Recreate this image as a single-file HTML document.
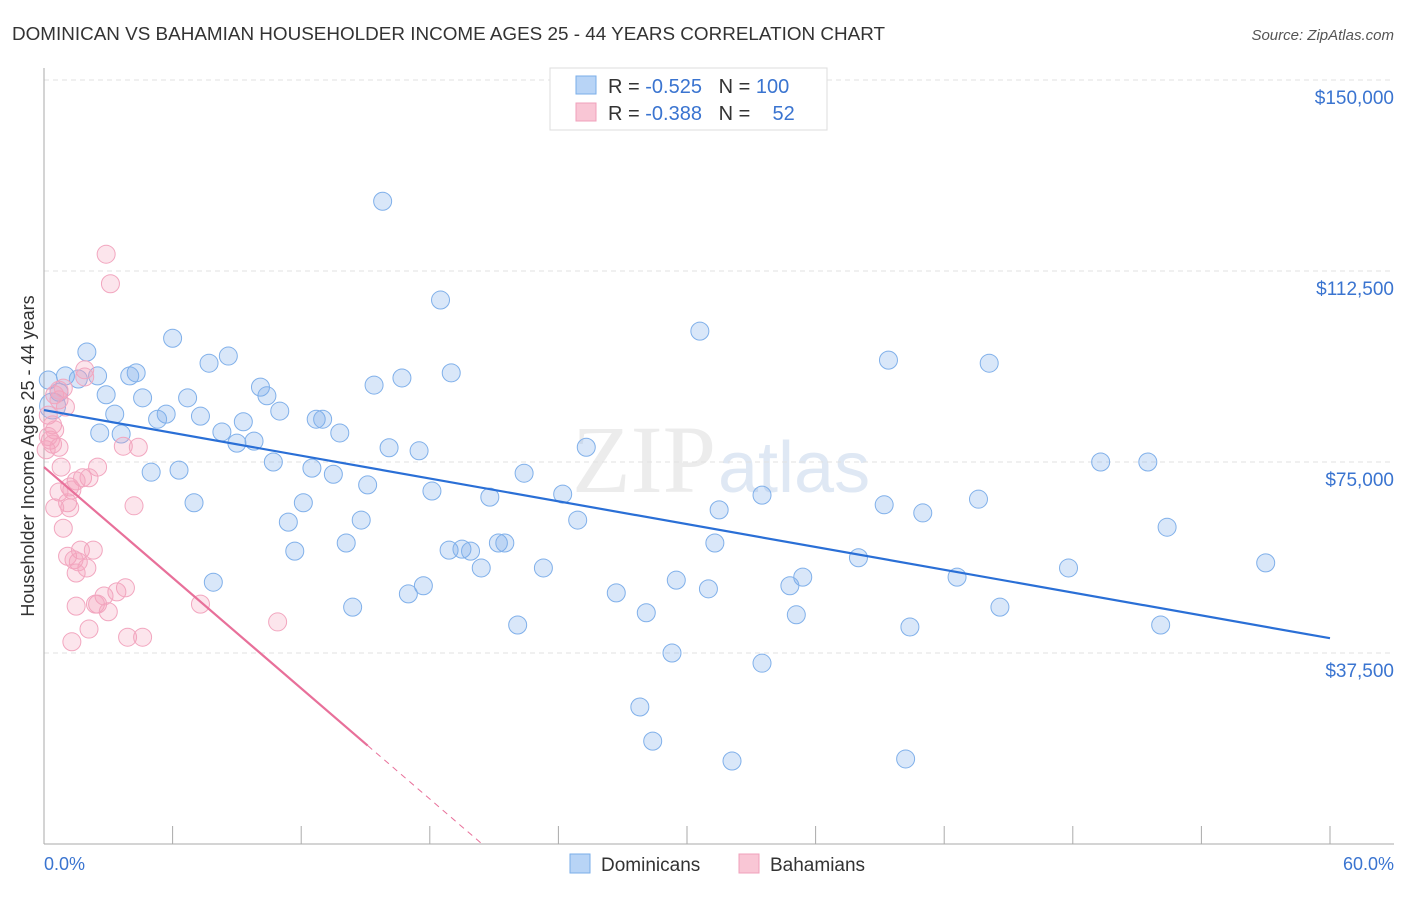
<!DOCTYPE html>
<html><head><meta charset="utf-8"><style>
body{margin:0;background:#fff;font-family:"Liberation Sans",sans-serif;}
</style></head><body>
<svg id="chart" width="1406" height="892" xmlns="http://www.w3.org/2000/svg" font-family="Liberation Sans, sans-serif">
<text x="12" y="40" font-size="18" fill="#333" textLength="873" lengthAdjust="spacingAndGlyphs">DOMINICAN VS BAHAMIAN HOUSEHOLDER INCOME AGES 25 - 44 YEARS CORRELATION CHART</text>
<text x="1394" y="40" font-size="15" fill="#555" text-anchor="end" font-style="italic">Source: ZipAtlas.com</text>
<text x="716" y="492" font-size="96" fill="#ececec" text-anchor="end" font-family="Liberation Serif, serif">ZIP</text>
<text x="718" y="492" font-size="72" fill="#dfe8f4">atlas</text>
<g id="grid"></g><g id="axes"></g><g id="pts"></g><g id="lines"></g>
<text transform="translate(34,456) rotate(-90)" font-size="18" fill="#333" text-anchor="middle">Householder Income Ages 25 - 44 years</text>
<text x="44" y="870" font-size="18" fill="#3a74d0">0.0%</text>
<text x="1394" y="870" font-size="18" fill="#3a74d0" text-anchor="end">60.0%</text>
<g>
<rect x="550" y="68" width="277" height="62" fill="#fff" stroke="#ddd"/>
<rect x="576" y="76" width="20" height="18" fill="#b8d4f6" stroke="#7aaee8"/>
<text x="608" y="93" font-size="20" fill="#333" xml:space="preserve">R = <tspan fill="#3a74d0">-0.525</tspan>   N = <tspan fill="#3a74d0">100</tspan></text>
<rect x="576" y="103" width="20" height="18" fill="#f9c6d5" stroke="#f0a0bb"/>
<text x="608" y="120" font-size="20" fill="#333" xml:space="preserve">R = <tspan fill="#3a74d0">-0.388</tspan>   N =    <tspan fill="#3a74d0">52</tspan></text>
</g>
<g>
<rect x="570" y="854" width="20" height="19" fill="#b8d4f6" stroke="#7aaee8"/>
<text x="601" y="871" font-size="19" fill="#333">Dominicans</text>
<rect x="739" y="854" width="20" height="19" fill="#f9c6d5" stroke="#f0a0bb"/>
<text x="770" y="871" font-size="19" fill="#333">Bahamians</text>
</g>
</svg>
<script>
const yTicks=[37500,75000,112500,150000];
const yTickLabels=["$37,500","$75,000","$112,500","$150,000"];
const xTicks=[0,6,12,18,24,30,36,42,48,54,60];
const blueX=[15.8,18.5,30.6,6.0,39.4,44.1,2.0,8.6,7.7,19.0,16.7,15.4,10.1,10.4,4.3,4.0,1.0,2.5,1.6,0.7,0.2,2.9,4.6,6.7,5.7,3.3,5.3,7.3,11.0,9.3,12.7,13.0,13.8,8.3,2.6,3.6,9.0,9.8,16.1,17.5,25.3,10.7,12.5,13.5,5.0,6.3,22.4,49.3,51.5,15.1,18.1,20.8,24.2,33.5,7.0,12.1,39.2,43.6,31.5,41.0,14.8,24.9,11.4,52.4,14.1,21.2,21.5,31.3,11.7,18.9,19.5,19.9,38.0,57.0,20.4,23.3,47.8,7.9,29.5,35.4,42.6,34.8,17.7,17.0,26.7,31.0,44.6,14.4,28.1,35.1,22.1,40.4,52.1,29.3,33.5,27.8,28.4,32.1,40.2,0.4];
const blueY=[126.2,106.8,100.7,99.3,95.0,94.4,96.6,95.8,94.4,92.5,91.5,90.1,89.7,88.0,92.5,91.9,91.9,91.9,91.3,88.7,91.1,88.2,87.6,87.6,84.4,84.4,83.4,84.0,85.0,82.9,83.4,83.4,80.7,80.9,80.7,80.5,78.7,79.1,77.8,77.2,77.9,75.0,73.8,72.6,73.0,73.4,72.8,75.0,75.0,70.5,69.3,68.1,68.7,68.5,67.0,67.0,66.6,67.7,65.6,65.0,63.6,63.6,63.2,62.2,59.1,59.1,59.1,59.1,57.5,57.7,57.9,57.5,56.2,55.2,54.2,54.2,54.2,51.4,51.8,52.4,52.4,50.7,50.7,49.1,49.3,50.1,46.5,46.5,45.4,45.0,43.0,42.6,43.0,37.5,35.5,26.9,20.2,16.3,16.7,86.0];
const pinkX=[2.9,3.1,0.5,0.7,0.9,0.2,0.4,0.3,0.7,0.1,0.8,2.5,1.8,2.1,1.5,1.2,0.7,1.3,1.1,0.5,1.2,4.2,0.9,1.1,1.7,2.3,2.0,1.6,1.4,1.5,3.8,3.4,2.8,2.5,1.5,2.4,3.0,3.9,4.6,1.3,2.1,7.3,10.9,3.7,4.4,0.7,1.9,1.0,1.9,0.5,0.2,0.4];
const pinkY=[115.8,110.0,88.2,87.2,89.5,84.2,82.3,79.3,77.9,77.4,74.0,74.0,71.9,71.9,71.3,70.1,69.1,69.5,67.0,66.0,66.0,66.4,62.0,56.5,57.7,57.7,54.2,55.4,55.8,53.2,50.3,49.5,48.7,47.1,46.7,47.1,45.6,40.6,40.6,39.7,42.2,47.1,43.6,78.1,77.9,89.1,93.1,85.8,91.7,81.3,80.0,78.5];
const blueTrend=[85.2,40.4];
const pinkTrend=[74.0,0];
const pinkZeroX=20.44, pinkSolidEnd=15.1;
const X=v=>44+v*(1286/60);
const Y=v=>844-v*191/37.5;
const NS="http://www.w3.org/2000/svg";
function mk(tag,attrs,parent){const e=document.createElementNS(NS,tag);for(const k in attrs)e.setAttribute(k,attrs[k]);document.getElementById(parent).appendChild(e);return e;}
yTicks.forEach((t,i)=>{
 const g=mk('line',{x1:44,x2:1394,y1:Y(t/1000),y2:Y(t/1000),stroke:'#e2e2e2','stroke-dasharray':'5,4'},'grid');
 
 
 const l=mk('text',{x:1394,y:Y(t/1000)+24,'font-size':19,fill:'#3a74d0','text-anchor':'end'},'axes');
 l.textContent=yTickLabels[i];
 
 
});
const ax=mk('line',{x1:44,x2:44,y1:68,y2:844,stroke:'#aaa'},'axes');


const bx=mk('line',{x1:44,x2:1394,y1:844,y2:844,stroke:'#aaa'},'axes');


xTicks.forEach(t=>{
 const e=mk('line',{x1:X(t),x2:X(t),y1:826,y2:844,stroke:'#aaa'},'axes');
 
 
});
blueX.forEach((x,i)=>{
 const c=mk('circle',{cx:X(x),cy:Y(blueY[i]),r:i==blueX.length-1?13:9,fill:'rgba(120,170,235,0.28)',stroke:'#80b0ea','stroke-width':1},'pts');
 
 
});
pinkX.forEach((x,i)=>{
 const c=mk('circle',{cx:X(x),cy:Y(pinkY[i]),r:9,fill:'rgba(245,160,188,0.28)',stroke:'#f2a6bf','stroke-width':1},'pts');
 
 
});
const bl=mk('line',{x1:X(0),y1:Y(blueTrend[0]),x2:X(60),y2:Y(blueTrend[1]),stroke:'#2a6fd6','stroke-width':2.2},'lines');


const pv=x=>pinkTrend[0]+(pinkTrend[1]-pinkTrend[0])*x/pinkZeroX;
const pl=mk('line',{x1:X(0),y1:Y(pv(0)),x2:X(pinkSolidEnd),y2:Y(pv(pinkSolidEnd)),stroke:'#e8709a','stroke-width':2.2},'lines');


const pd=mk('line',{x1:X(pinkSolidEnd),y1:Y(pv(pinkSolidEnd)),x2:X(pinkZeroX),y2:Y(0),stroke:'#e8709a','stroke-width':1,'stroke-dasharray':'6,5'},'lines');


</script>
</body></html>
